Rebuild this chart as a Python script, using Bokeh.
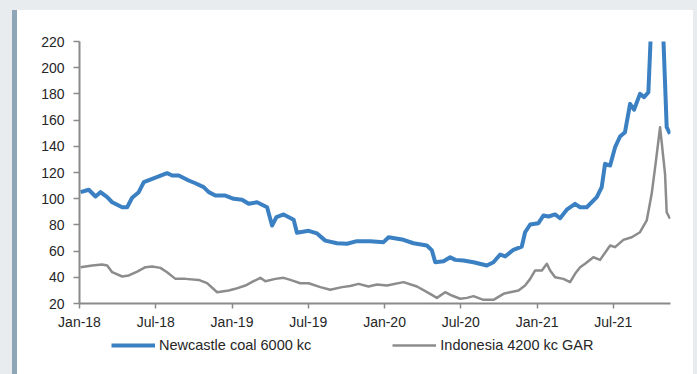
from bokeh.plotting import figure
from bokeh.models import FixedTicker, Legend, LegendItem, Range1d, Div
from bokeh.layouts import row, column
from bokeh.embed import file_html
from bokeh.resources import INLINE

# Months since Jan-2018
newcastle_month = [0.08, 0.73, 1.26, 1.65, 2.18, 2.57, 3.36, 3.75, 4.14, 4.66,
                   5.06, 5.72, 6.23, 6.89, 7.29, 7.81, 8.59, 9.12, 9.77, 10.17,
                   10.69, 11.48, 12.13, 12.79, 13.31, 13.97, 14.76, 15.15, 15.5, 16.06,
                   16.85, 17.11, 18.03, 18.69, 19.34, 20.26, 21.05, 21.83, 22.88, 23.92,
                   24.32, 25.49, 26.28, 27.33, 27.73, 27.99, 28.64, 29.17, 29.56, 30.21,
                   31.0, 32.05, 32.57, 33.1, 33.49, 34.14, 34.8, 35.06, 35.46, 36.11,
                   36.5, 36.9, 37.42, 37.81, 38.34, 38.99, 39.39, 39.91, 40.7, 41.09,
                   41.35, 41.75, 42.14, 42.53, 42.92, 43.32, 43.63, 44.1, 44.42, 44.76,
                   44.97, 45.44, 45.91, 46.2, 46.46]
newcastle_price = [105, 106.8, 101.7, 105, 101.2, 97.3, 93.5, 93.5, 100.7, 105,
                   112.6, 115.2, 117, 119.5, 117.7, 117.7, 113.9, 111.8, 108.8, 105,
                   102.4, 102.4, 99.9, 99.2, 96.1, 97.3, 93.5, 79.5, 86, 88,
                   84, 74, 75.5, 73.5, 68, 66, 65.6, 67.6, 67.6, 66.8,
                   70.6, 68.6, 66, 64.3, 60.5, 51.5, 52.3, 55.3, 53.3, 52.8,
                   51.5, 49, 51.5, 57.4, 55.9, 61, 63.5, 74.4, 80.3, 81.3,
                   87.2, 86.4, 88, 85.1, 91.6, 96.1, 93.5, 93.5, 101.2, 108.9,
                   126.6, 125.3, 139.3, 147.5, 150.8, 172.4, 167.9, 180, 177.5, 181.3,
                   230, 260, 230, 154.6, 149.5]

indonesia_month = [0.08, 1.0, 1.78, 2.18, 2.57, 3.36, 3.88, 4.54, 5.19, 5.72,
                   6.37, 6.89, 7.55, 8.33, 9.38, 10.04, 10.83, 11.74, 12.26, 13.05,
                   13.7, 14.23, 14.62, 15.41, 16.06, 16.59, 17.37, 18.03, 18.95, 19.73,
                   20.65, 21.3, 21.96, 22.74, 23.4, 24.19, 25.49, 26.55, 27.59, 28.12,
                   28.77, 29.3, 29.95, 30.48, 31.0, 31.78, 32.57, 33.36, 33.88, 34.54,
                   35.06, 35.46, 35.85, 36.38, 36.77, 37.03, 37.42, 38.07, 38.6, 38.99,
                   39.39, 39.78, 40.43, 40.96, 41.75, 42.14, 42.79, 43.45, 44.1, 44.63,
                   45.02, 45.36, 45.68, 46.07, 46.2, 46.46]
indonesia_price = [47.7, 49, 49.8, 49, 43.9, 40.6, 41.4, 44.4, 47.7, 48.2,
                   47.2, 43.9, 38.8, 38.8, 38, 35.5, 28.6, 29.9, 31.2, 33.7,
                   37, 39.6, 37, 38.8, 39.6, 38, 35.5, 35.5, 32.5, 30.5,
                   32.5, 33.3, 35, 33, 34.5, 33.7, 36.3, 33, 27.4, 24.3,
                   28.6, 26.1, 23.6, 24.3, 25.6, 22.8, 22.8, 27.4, 28.6, 29.9,
                   33.7, 38.8, 45.2, 45.2, 50.3, 45.2, 40.1, 38.8, 36.3, 42.7,
                   47.7, 50.3, 55.3, 53.3, 64.3, 63, 68.6, 70.6, 74.4, 83.4,
                   103.7, 129.2, 154.6, 119, 89.7, 84.7]

x_tick_pos = [0, 6, 12, 18, 24, 30, 36, 42]
x_tick_labels = ["Jan-18", "Jul-18", "Jan-19", "Jul-19", "Jan-20", "Jul-20", "Jan-21", "Jul-21"]
y_ticks = [20, 40, 60, 80, 100, 120, 140, 160, 180, 200, 220]

series_names = ["Newcastle coal 6000 kc", "Indonesia 4200 kc GAR"]

FONT = "Liberation Sans"
TXT = "#262626"
BLUE = "#3a80c2"
GREY = "#8c8c8c"

# main chart: page y 10..335, x 17..693
p = figure(width=676, height=325, output_backend="svg", toolbar_location=None,
           x_range=Range1d(0, 46.5), y_range=Range1d(20, 220),
           min_border_left=62, min_border_right=23, min_border_top=31, min_border_bottom=32)
p.margin = (0, 0, 0, 0)
p.border_fill_color = "white"
p.background_fill_color = "white"
p.outline_line_color = None
p.xgrid.visible = False
p.ygrid.visible = False

p.line(indonesia_month, indonesia_price, line_color=GREY, line_width=2.5, line_join="round")
p.line(newcastle_month, newcastle_price, line_color=BLUE, line_width=4, line_join="round")

for ax in (p.xaxis[0], p.yaxis[0]):
    ax.axis_line_color = "#8a8a8a"
    ax.axis_line_width = 2
    ax.major_tick_line_color = "#8a8a8a"
    ax.major_tick_line_width = 1.5
    ax.major_tick_in = 0
    ax.minor_tick_line_color = None
    ax.major_label_text_font = FONT
    ax.major_label_text_font_size = "14px"
    ax.major_label_text_color = TXT

p.xaxis.ticker = FixedTicker(ticks=x_tick_pos)
p.xaxis.major_label_overrides = {t: l for t, l in zip(x_tick_pos, x_tick_labels)}
p.xaxis.major_tick_out = 5
p.xaxis.major_label_standoff = 5
p.yaxis.ticker = FixedTicker(ticks=y_ticks)
p.yaxis.major_tick_out = 6
p.yaxis.major_label_standoff = 9

# legend strip: page y 335..374 (frame aligned with the main chart's frame)
pl = figure(width=676, height=39, output_backend="svg", toolbar_location=None,
            x_axis_type=None, y_axis_type=None, x_range=Range1d(0, 1), y_range=Range1d(0, 1),
            min_border=0)
pl.margin = (0, 0, 0, 0)
pl.border_fill_color = "white"
pl.background_fill_color = "white"
pl.outline_line_color = None
pl.xgrid.visible = False
pl.ygrid.visible = False
# legend-only renderers (their points lie outside the visible range)
lr_new = pl.line([-5, -4], [-5, -5], line_color=BLUE, line_width=4)
lr_ind = pl.line([-5, -4], [-5, -5], line_color=GREY, line_width=2.5)

legend = Legend(items=[LegendItem(label=series_names[0], renderers=[lr_new]),
                       LegendItem(label=series_names[1], renderers=[lr_ind])],
                orientation="horizontal", location=(32, 21),
                padding=0, margin=0, spacing=81, glyph_width=44, glyph_height=16,
                label_height=16, label_standoff=4,
                label_text_font=FONT, label_text_font_size="14.5px",
                label_text_color=TXT, background_fill_alpha=0, border_line_color=None)
pl.add_layout(legend, "center")

bar = Div(text="", width=5, height=364, margin=(10, 0, 0, 12),
          styles={"background-color": "#8fa6b6"})

inner = column(p, pl, spacing=0, margin=(10, 4, 0, 0),
               styles={"background-color": "white"})
layout = row(bar, inner, styles={"background-color": "#e8ecef"})

open("out.html", "w").write(file_html(layout, INLINE))
